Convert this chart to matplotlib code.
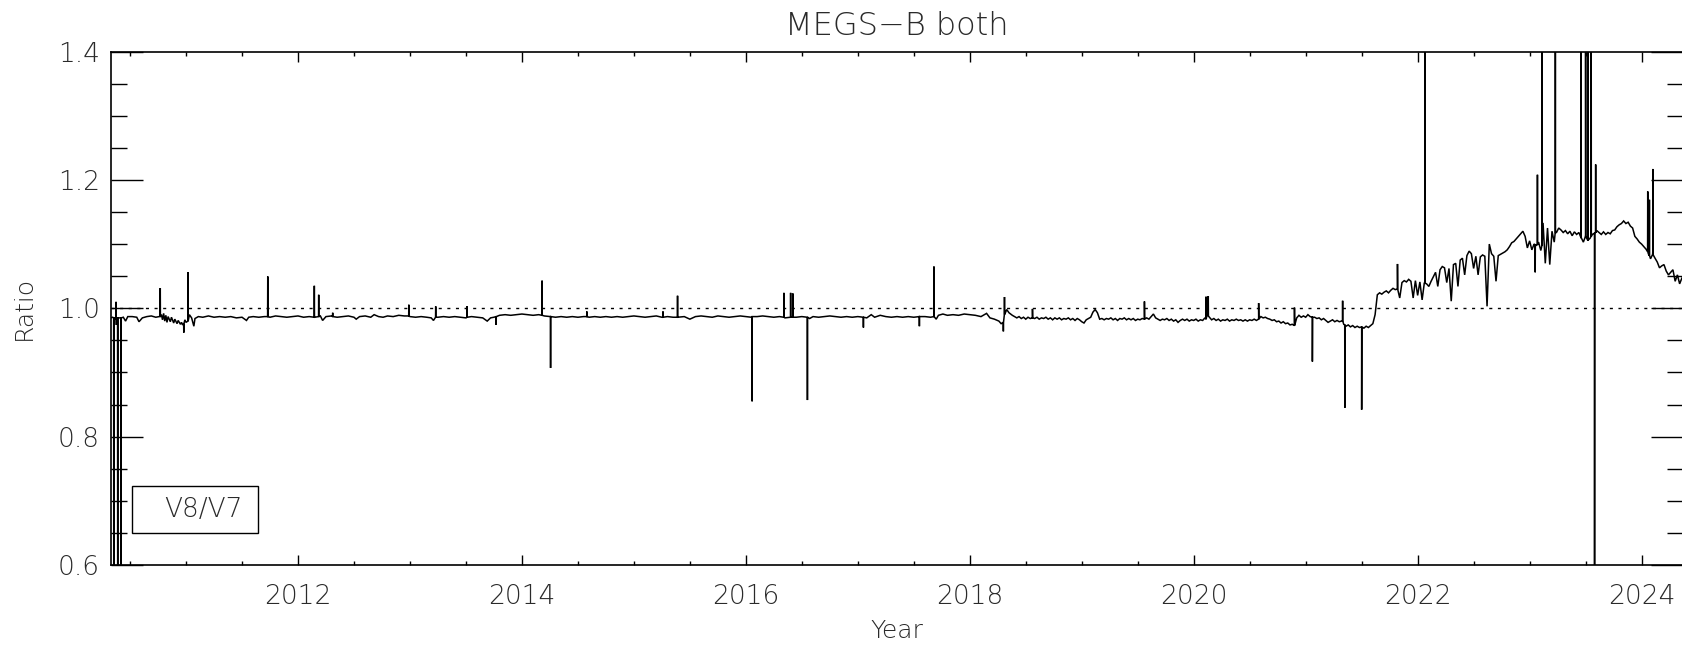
import numpy as np
import matplotlib
matplotlib.use("Agg")
import matplotlib.pyplot as plt
from matplotlib.ticker import FixedLocator, MultipleLocator
from matplotlib.patches import Rectangle

# ---------------- data ----------------
title_text = "MEGS\u2212B both"
x_label = "Year"
y_label = "Ratio"
legend_label = "V8/V7"

x_ticks = [2012, 2014, 2016, 2018, 2020, 2022, 2024]
x_tick_labels = ["2012", "2014", "2016", "2018", "2020", "2022", "2024"]
y_ticks = [0.6, 0.8, 1.0, 1.2, 1.4]
y_tick_labels = ["0.6", "0.8", "1.0", "1.2", "1.4"]
reference_level = 1.0

# 2010.33 - 2018.38
early_years = [
    2010.33, 2010.345, 2010.37, 2010.40, 2010.44, 2010.46, 2010.48, 2010.52, 2010.56, 2010.58,
    2010.61, 2010.65, 2010.69, 2010.73, 2010.76, 2010.78, 2010.79, 2010.80, 2010.81, 2010.82,
    2010.83, 2010.84, 2010.86, 2010.87, 2010.89, 2010.90, 2010.92, 2010.93, 2010.95, 2010.96,
    2010.97, 2010.99, 2011.00, 2011.03, 2011.05, 2011.07, 2011.08, 2011.11, 2011.15, 2011.20,
    2011.25, 2011.30, 2011.35, 2011.40, 2011.45, 2011.50, 2011.54, 2011.56, 2011.60, 2011.65,
    2011.70, 2011.75, 2011.80, 2011.85, 2011.90, 2011.95, 2012.00, 2012.05, 2012.10, 2012.15,
    2012.20, 2012.22, 2012.25, 2012.30, 2012.35, 2012.40, 2012.45, 2012.50, 2012.52, 2012.55,
    2012.60, 2012.65, 2012.68, 2012.72, 2012.76, 2012.80, 2012.85, 2012.90, 2012.95, 2013.00,
    2013.05, 2013.10, 2013.15, 2013.19, 2013.21, 2013.25, 2013.30, 2013.35, 2013.40, 2013.45,
    2013.50, 2013.55, 2013.60, 2013.65, 2013.69, 2013.72, 2013.75, 2013.80, 2013.85, 2013.90,
    2013.95, 2014.00, 2014.05, 2014.10, 2014.15, 2014.20, 2014.25, 2014.30, 2014.35, 2014.40,
    2014.45, 2014.50, 2014.55, 2014.60, 2014.65, 2014.70, 2014.75, 2014.80, 2014.85, 2014.90,
    2014.95, 2015.00, 2015.05, 2015.10, 2015.15, 2015.20, 2015.25, 2015.30, 2015.35, 2015.45,
    2015.50, 2015.55, 2015.60, 2015.65, 2015.70, 2015.75, 2015.80, 2015.85, 2015.90, 2015.95,
    2016.00, 2016.05, 2016.10, 2016.15, 2016.20, 2016.25, 2016.30, 2016.35, 2016.45, 2016.50,
    2016.57, 2016.60, 2016.65, 2016.70, 2016.75, 2016.80, 2016.85, 2016.90, 2016.95, 2017.00,
    2017.08, 2017.12, 2017.15, 2017.20, 2017.25, 2017.30, 2017.35, 2017.40, 2017.45, 2017.50,
    2017.60, 2017.65, 2017.70, 2017.72, 2017.76, 2017.80, 2017.85, 2017.90, 2017.95, 2018.00,
    2018.05, 2018.10, 2018.15, 2018.18, 2018.22, 2018.26, 2018.28, 2018.33, 2018.35, 2018.38,
]
early_ratio = [
    0.985, 0.986, 0.984, 0.985, 0.986, 0.980, 0.987, 0.987, 0.986, 0.979,
    0.985, 0.987, 0.988, 0.986, 0.987, 0.990, 0.982, 0.992, 0.980, 0.989,
    0.978, 0.987, 0.979, 0.986, 0.977, 0.983, 0.976, 0.981, 0.975, 0.978,
    0.974, 0.982, 0.978, 0.990, 0.985, 0.972, 0.984, 0.987, 0.986, 0.988,
    0.986, 0.987, 0.986, 0.987, 0.985, 0.986, 0.981, 0.986, 0.987, 0.986,
    0.987, 0.986, 0.988, 0.987, 0.986, 0.987, 0.988, 0.986, 0.987, 0.986,
    0.988, 0.981, 0.987, 0.988, 0.986, 0.987, 0.988, 0.986, 0.983, 0.987,
    0.988, 0.986, 0.990, 0.987, 0.986, 0.988, 0.987, 0.989, 0.988, 0.987,
    0.986, 0.987, 0.986, 0.985, 0.981, 0.986, 0.987, 0.986, 0.987, 0.986,
    0.985, 0.987, 0.986, 0.985, 0.980, 0.985, 0.986, 0.989, 0.990, 0.989,
    0.990, 0.991, 0.990, 0.989, 0.990, 0.988, 0.987, 0.986, 0.987, 0.986,
    0.987, 0.986, 0.987, 0.986, 0.987, 0.986, 0.987, 0.986, 0.987, 0.986,
    0.987, 0.988, 0.987, 0.986, 0.987, 0.988, 0.986, 0.987, 0.986, 0.987,
    0.983, 0.987, 0.988, 0.987, 0.986, 0.988, 0.987, 0.986, 0.987, 0.988,
    0.987, 0.986, 0.987, 0.988, 0.987, 0.986, 0.987, 0.985, 0.986, 0.987,
    0.984, 0.987, 0.986, 0.987, 0.988, 0.987, 0.986, 0.987, 0.986, 0.987,
    0.985, 0.990, 0.986, 0.989, 0.987, 0.986, 0.987, 0.986, 0.987, 0.986,
    0.987, 0.986, 0.983, 0.989, 0.991, 0.989, 0.990, 0.989, 0.991, 0.990,
    0.989, 0.987, 0.992, 0.985, 0.983, 0.980, 0.976, 0.998, 0.993, 0.989,
]

# 2018.40 - 2021.60 (noisier stretch)
mid_years = [
    2018.40, 2018.42, 2018.44, 2018.46, 2018.48, 2018.50, 2018.52, 2018.54, 2018.56, 2018.58,
    2018.60, 2018.62, 2018.64, 2018.66, 2018.68, 2018.70, 2018.72, 2018.74, 2018.76, 2018.78,
    2018.80, 2018.82, 2018.84, 2018.86, 2018.88, 2018.90, 2018.92, 2018.94, 2018.96, 2018.98,
    2019.00, 2019.02, 2019.04, 2019.06, 2019.08, 2019.10, 2019.12, 2019.14, 2019.16, 2019.18,
    2019.20, 2019.22, 2019.24, 2019.26, 2019.28, 2019.30, 2019.32, 2019.34, 2019.36, 2019.38,
    2019.40, 2019.42, 2019.44, 2019.46, 2019.48, 2019.50, 2019.52, 2019.54, 2019.56, 2019.58,
    2019.60, 2019.62, 2019.64, 2019.66, 2019.68, 2019.70, 2019.72, 2019.74, 2019.76, 2019.78,
    2019.80, 2019.82, 2019.84, 2019.86, 2019.88, 2019.90, 2019.92, 2019.94, 2019.96, 2019.98,
    2020.00, 2020.02, 2020.04, 2020.06, 2020.08, 2020.10, 2020.12, 2020.14, 2020.16, 2020.18,
    2020.20, 2020.22, 2020.24, 2020.26, 2020.28, 2020.30, 2020.32, 2020.34, 2020.36, 2020.38,
    2020.40, 2020.42, 2020.44, 2020.46, 2020.48, 2020.50, 2020.52, 2020.54, 2020.56, 2020.58,
    2020.60, 2020.62, 2020.64, 2020.66, 2020.68, 2020.70, 2020.72, 2020.74, 2020.76, 2020.78,
    2020.80, 2020.82, 2020.84, 2020.86, 2020.88, 2020.90, 2020.92, 2020.94, 2020.96, 2020.98,
    2021.00, 2021.02, 2021.04, 2021.06, 2021.08, 2021.10, 2021.12, 2021.14, 2021.16, 2021.18,
    2021.20, 2021.22, 2021.24, 2021.26, 2021.28, 2021.30, 2021.32, 2021.34, 2021.36, 2021.38,
    2021.40, 2021.42, 2021.44, 2021.46, 2021.48, 2021.50, 2021.52, 2021.54, 2021.56, 2021.58,
    2021.60,
]
mid_ratio = [
    0.987, 0.985, 0.987, 0.984, 0.986, 0.983, 0.986, 0.984, 0.986, 0.984,
    0.986, 0.983, 0.985, 0.984, 0.986, 0.983, 0.985, 0.982, 0.985, 0.983,
    0.985, 0.982, 0.984, 0.983, 0.985, 0.982, 0.984, 0.981, 0.984, 0.982,
    0.979, 0.977, 0.982, 0.984, 0.986, 0.994, 0.998, 0.993, 0.983, 0.984,
    0.982, 0.984, 0.983, 0.985, 0.982, 0.984, 0.981, 0.984, 0.983, 0.985,
    0.982, 0.984, 0.982, 0.984, 0.981, 0.983, 0.982, 0.984, 0.983, 0.985,
    0.983, 0.987, 0.991, 0.985, 0.983, 0.981, 0.983, 0.982, 0.984, 0.981,
    0.983, 0.980, 0.982, 0.978, 0.981, 0.983, 0.981, 0.983, 0.980, 0.982,
    0.981, 0.983, 0.980, 0.982, 0.981, 0.985, 0.991, 0.986, 0.982, 0.984,
    0.981, 0.983, 0.980, 0.982, 0.981, 0.983, 0.980, 0.982, 0.981, 0.983,
    0.981, 0.982, 0.980, 0.982, 0.980, 0.982, 0.981, 0.983, 0.981, 0.984,
    0.987, 0.985, 0.986, 0.984, 0.983, 0.981, 0.982, 0.979, 0.980, 0.977,
    0.979, 0.976, 0.977, 0.974, 0.975, 0.973, 0.985, 0.989, 0.986, 0.988,
    0.986, 0.990, 0.987, 0.985, 0.986, 0.984, 0.985, 0.982, 0.984, 0.981,
    0.978, 0.980, 0.982, 0.979, 0.981, 0.979, 0.980, 0.975, 0.972, 0.974,
    0.971, 0.973, 0.970, 0.972, 0.970, 0.971, 0.969, 0.972, 0.970, 0.973,
    0.976,
]

# 2021.62 - 2024.36 (after the step)
late_years = [
    2021.62, 2021.64, 2021.66, 2021.68, 2021.70, 2021.72, 2021.74, 2021.76, 2021.78, 2021.80,
    2021.82, 2021.84, 2021.86, 2021.88, 2021.90, 2021.92, 2021.94, 2021.96, 2021.98, 2022.00,
    2022.02, 2022.04, 2022.06, 2022.08, 2022.10, 2022.12, 2022.14, 2022.16, 2022.18, 2022.20,
    2022.22, 2022.24, 2022.26, 2022.28, 2022.30, 2022.32, 2022.34, 2022.36, 2022.38, 2022.40,
    2022.42, 2022.44, 2022.46, 2022.48, 2022.50, 2022.52, 2022.54, 2022.56, 2022.58, 2022.60,
    2022.62, 2022.64, 2022.66, 2022.68, 2022.70, 2022.72, 2022.74, 2022.76, 2022.78, 2022.80,
    2022.82, 2022.84, 2022.86, 2022.88, 2022.90, 2022.92, 2022.94, 2022.96, 2022.98, 2023.00,
    2023.02, 2023.04, 2023.06, 2023.08, 2023.10, 2023.12, 2023.14, 2023.16, 2023.18, 2023.20,
    2023.22, 2023.24, 2023.26, 2023.28, 2023.30, 2023.32, 2023.34, 2023.36, 2023.38, 2023.40,
    2023.42, 2023.44, 2023.46, 2023.48, 2023.50, 2023.52, 2023.54, 2023.56, 2023.58, 2023.60,
    2023.62, 2023.64, 2023.66, 2023.68, 2023.70, 2023.72, 2023.74, 2023.76, 2023.78, 2023.80,
    2023.82, 2023.84, 2023.86, 2023.88, 2023.90, 2023.92, 2023.94, 2023.96, 2023.98, 2024.00,
    2024.02, 2024.04, 2024.06, 2024.08, 2024.10, 2024.12, 2024.14, 2024.16, 2024.18, 2024.20,
    2024.22, 2024.24, 2024.26, 2024.28, 2024.30, 2024.32, 2024.34, 2024.36,
]
late_ratio = [
    0.990, 1.021, 1.024, 1.022, 1.025, 1.027, 1.024, 1.028, 1.031, 1.029,
    1.030, 1.016, 1.040, 1.043, 1.041, 1.045, 1.042, 1.016, 1.043, 1.020,
    1.041, 1.013, 1.040, 1.038, 1.034, 1.042, 1.049, 1.056, 1.034, 1.060,
    1.065, 1.063, 1.040, 1.062, 1.011, 1.068, 1.070, 1.034, 1.075, 1.078,
    1.052, 1.082, 1.089, 1.085, 1.062, 1.081, 1.052, 1.080, 1.083, 1.081,
    1.003, 1.100, 1.085, 1.081, 1.042, 1.082, 1.084, 1.086, 1.088, 1.091,
    1.096, 1.102, 1.104, 1.108, 1.112, 1.116, 1.120, 1.112, 1.094, 1.105,
    1.091, 1.100, 1.098, 1.103, 1.090, 1.133, 1.070, 1.125, 1.068, 1.120,
    1.103, 1.118, 1.125, 1.122, 1.118, 1.121, 1.116, 1.120, 1.113, 1.119,
    1.115, 1.118, 1.110, 1.103, 1.112, 1.106, 1.109, 1.115, 1.117, 1.121,
    1.118, 1.115, 1.119, 1.115, 1.118, 1.116, 1.121, 1.122, 1.127, 1.130,
    1.132, 1.136, 1.132, 1.134, 1.128, 1.125, 1.112, 1.108, 1.103, 1.100,
    1.096, 1.092, 1.085, 1.077, 1.088, 1.078, 1.072, 1.063, 1.066, 1.068,
    1.058, 1.052, 1.056, 1.060, 1.042, 1.052, 1.038, 1.047,
]

# isolated one-day excursions: time, excursion value, surrounding level
spike_years = [
    2010.355, 2010.375, 2010.378, 2010.39, 2010.42, 2010.77, 2010.98, 2011.018, 2011.73, 2012.146,
    2012.185, 2012.31, 2012.99, 2013.23, 2013.51, 2013.77, 2014.18, 2014.256, 2014.58, 2015.26,
    2015.39, 2016.056, 2016.34, 2016.40, 2016.42, 2016.55, 2017.05, 2017.55, 2017.68, 2018.30,
    2018.31, 2018.56, 2019.56, 2020.11, 2020.13, 2020.58, 2020.90, 2021.06, 2021.33, 2021.35,
    2021.50, 2021.82, 2022.066, 2023.05, 2023.07, 2023.11, 2023.23, 2023.46, 2023.50, 2023.52,
    2023.55, 2023.58, 2023.59, 2024.055, 2024.07, 2024.10,
]
spike_ratio = [
    0.40, 1.010, 0.974, 0.40, 0.40, 1.0315, 0.962, 1.056, 1.0496, 1.035,
    1.021, 0.993, 1.0055, 1.003, 1.003, 0.974, 1.043, 0.907, 0.995, 0.995,
    1.0195, 0.855, 1.024, 1.024, 1.023, 0.857, 0.970, 0.972, 1.065, 0.964,
    1.0175, 0.999, 1.0106, 1.018, 1.019, 1.008, 1.001, 0.917, 1.0117, 0.845,
    0.842, 1.069, 1.50, 1.056, 1.208, 1.50, 1.50, 1.50, 1.50, 1.50,
    1.50, 0.40, 1.224, 1.182, 1.169, 1.217,
]
spike_base = [
    0.985, 0.985, 0.985, 0.985, 0.985, 0.987, 0.976, 0.980, 0.987, 0.986,
    0.987, 0.987, 0.988, 0.986, 0.986, 0.987, 0.989, 0.987, 0.987, 0.986,
    0.986, 0.987, 0.986, 0.986, 0.986, 0.986, 0.986, 0.987, 0.987, 0.978,
    0.990, 0.985, 0.983, 0.983, 0.988, 0.983, 0.973, 0.986, 0.980, 0.974,
    0.971, 1.030, 1.039, 1.099, 1.099, 1.097, 1.118, 1.110, 1.112, 1.106,
    1.112, 1.117, 1.118, 1.088, 1.082, 1.084,
]

# ---------------- assemble series ----------------
t_all = list(early_years) + list(mid_years) + list(late_years)
v_all = list(early_ratio) + list(mid_ratio) + list(late_ratio)
half = 0.0012
for ty, pk, b in zip(spike_years, spike_ratio, spike_base):
    t_all += [ty - half, ty, ty + half]
    v_all += [b, pk, b]
order = np.argsort(t_all, kind="stable")
t_all = np.asarray(t_all)[order]
v_all = np.asarray(v_all)[order]

# ---------------- figure ----------------
plt.rcParams["font.family"] = ["DejaVu Sans"]
text_color = "#2a2a2a"
W, H = 1683, 647
fig = plt.figure(figsize=(W / 100, H / 100), dpi=100)
fig.patch.set_facecolor("white")
ax = fig.add_axes([111 / W, 82 / H, (W - 111) / W, 513.5 / H])

ax.plot(t_all, v_all, color="black", lw=1.1, solid_joinstyle="miter")
ax.axhline(reference_level, color="black", lw=1.0, linestyle=(0, (2.2, 4.0)))

ax.set_xlim(2010.33, 2024.37)
ax.set_ylim(0.6, 1.4)

ax.xaxis.set_major_locator(FixedLocator(x_ticks))
ax.set_xticklabels(x_tick_labels)
ax.xaxis.set_minor_locator(MultipleLocator(0.5))
ax.yaxis.set_major_locator(FixedLocator(y_ticks))
ax.set_yticklabels(y_tick_labels)
ax.yaxis.set_minor_locator(MultipleLocator(0.05))

ax.tick_params(which="both", direction="in", top=True, right=True, color="black", width=1.0)
ax.tick_params(axis="y", which="major", length=23)
ax.tick_params(axis="y", which="minor", length=11.5)
ax.tick_params(axis="x", which="major", length=7)
ax.tick_params(axis="x", which="minor", length=3)
ax.tick_params(axis="x", which="major", labelsize=19, pad=14, labelcolor=text_color)
ax.tick_params(axis="y", which="major", labelsize=19, pad=8, labelcolor=text_color)
for lab in ax.get_xticklabels() + ax.get_yticklabels():
    lab.set_fontweight("light")

for sp in ax.spines.values():
    sp.set_linewidth(1.2)
    sp.set_color("black")

ax.set_title(title_text, fontsize=23, color=text_color, y=1.05, va="center", pad=0,
             fontweight="light")
ax.set_xlabel(x_label, fontsize=18, color=text_color, fontweight="light")
ax.xaxis.label.set_va("center")
ax.xaxis.set_label_coords(0.5, -0.1285)
ax.set_ylabel(y_label, fontsize=18, color=text_color, fontweight="light")
ax.yaxis.label.set_va("center")
ax.yaxis.set_label_coords(-0.0556, 0.5)

# legend-style label box
ax.add_patch(Rectangle((0.0132, 0.0617), 0.0805, 0.0927, transform=ax.transAxes,
                       fill=False, edgecolor="black", lw=1.0, zorder=5))
ax.text(0.0585, 0.108, legend_label, transform=ax.transAxes, ha="center", va="center",
        fontsize=19, color=text_color, fontweight="light", zorder=6)

fig.savefig("out.png", dpi=100, facecolor="white")
